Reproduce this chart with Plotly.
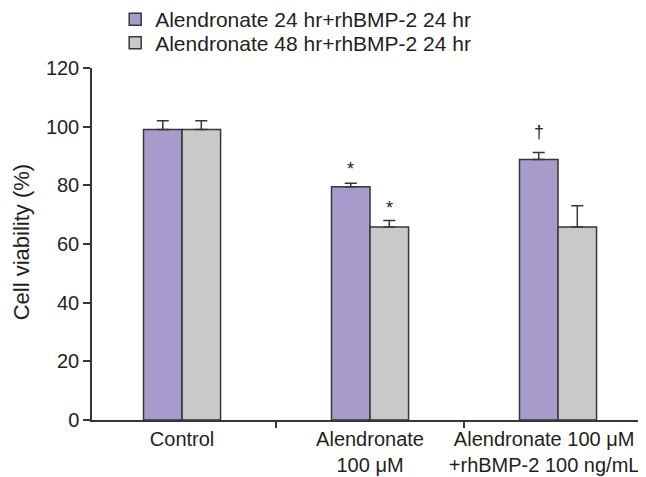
import plotly.graph_objects as go

pad = "&nbsp;" * 5
categories = ["Control", "Alendronate<br>100 μM",
              "Alendronate 100 μM" + pad + "<br>+rhBMP-2 100 ng/mL" + pad]
series_names = ["Alendronate 24 hr+rhBMP-2 24 hr", "Alendronate 48 hr+rhBMP-2 24 hr"]
vals_24 = [99, 79.5, 88.8]
err_24 = [3, 1.2, 2.4]
vals_48 = [99, 65.8, 65.8]
err_48 = [3, 2.2, 7.2]
marks_24 = ["", "*", "†"]
marks_48 = ["", "*", ""]
yticks = [0, 20, 40, 60, 80, 100, 120]

x_pos = list(range(len(categories)))
edge = "#3a3536"
txt = "#231f20"
font_fam = "Liberation Sans, Arial, sans-serif"
bargap = 0.59

fig = go.Figure()
fig.add_trace(go.Bar(
    x=x_pos, y=vals_24, name=series_names[0], legend="legend",
    marker=dict(color="#a69bcb", line=dict(color=edge, width=1.5)),
    error_y=dict(type="data", symmetric=False, array=err_24, arrayminus=[0]*3,
                 color=edge, thickness=1.5, width=6),
))
fig.add_trace(go.Bar(
    x=x_pos, y=vals_48, name=series_names[1], legend="legend2",
    marker=dict(color="#c8c9cb", line=dict(color=edge, width=1.5)),
    error_y=dict(type="data", symmetric=False, array=err_48, arrayminus=[0]*3,
                 color=edge, thickness=1.5, width=6),
))

# significance markers (offset = half of one bar's width within the group)
bw = (1 - bargap) / 4
for i, m in enumerate(marks_24):
    if m:
        fig.add_annotation(x=x_pos[i] - bw, y=vals_24[i] + err_24[i], text=m,
                           showarrow=False, yshift=14 if m == "*" else 20,
                           font=dict(size=18, color=txt, family=font_fam))
for i, m in enumerate(marks_48):
    if m:
        fig.add_annotation(x=x_pos[i] + bw, y=vals_48[i] + err_48[i], text=m,
                           showarrow=False, yshift=13,
                           font=dict(size=18, color=txt, family=font_fam))

# y-axis title
fig.add_annotation(xref="paper", yref="paper", x=-0.128, y=0.505, text="Cell viability (%)",
                   textangle=-90, showarrow=False, xanchor="center", yanchor="middle",
                   font=dict(size=22, color=txt, family=font_fam))

leg_common = dict(xref="container", yref="container", x=0.168,
                  xanchor="left", yanchor="middle", bgcolor="rgba(0,0,0,0)",
                  font=dict(size=21, color=txt), itemwidth=30)

xr = [-0.479, 2.468]
fig.update_layout(
    width=638, height=469,
    margin=dict(l=84, r=0, t=60, b=57, autoexpand=False),
    paper_bgcolor="white", plot_bgcolor="white",
    barmode="group", bargap=bargap, bargroupgap=0,
    font=dict(family=font_fam, size=20, color=txt),
    showlegend=True,
    legend=dict(y=0.9755, **leg_common),
    legend2=dict(y=0.9254, **leg_common),
    xaxis=dict(range=xr, tickvals=x_pos, ticktext=categories, ticks="",
               tickangle=0, automargin=False, ticklabeloverflow="allow",
               showline=True, linecolor=edge, linewidth=1.5, showgrid=False,
               zeroline=False, tickfont=dict(size=20)),
    xaxis2=dict(range=xr, overlaying="x", side="bottom", tickvals=[0.5, 1.5],
                showticklabels=False, ticks="outside", ticklen=7, tickwidth=1.5,
                tickcolor=edge, showgrid=False, zeroline=False, showline=False,
                anchor="y"),
    yaxis=dict(range=[0, 120], tickvals=yticks, ticks="outside", ticklen=7,
               tickwidth=1.5, tickcolor=edge, showline=True, linecolor=edge,
               linewidth=1.5, showgrid=False, zeroline=False, automargin=False,
               tickfont=dict(size=20)),
)
# dummy trace to activate xaxis2
fig.add_trace(go.Scatter(x=[None], y=[None], xaxis="x2", showlegend=False, hoverinfo="skip"))

fig.write_html("out.html")
